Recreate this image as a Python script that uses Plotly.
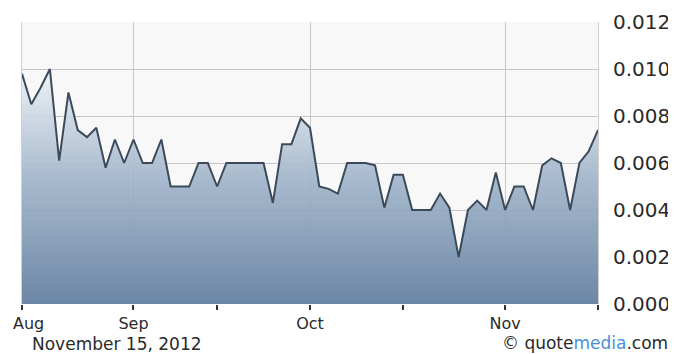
import plotly.graph_objects as go

# Trading days shown on the chart (Aug 16 - Nov 15, 2012)
dates = [
    "2012-08-16", "2012-08-17", "2012-08-20", "2012-08-21", "2012-08-22", "2012-08-23",
    "2012-08-24", "2012-08-27", "2012-08-28", "2012-08-29", "2012-08-30", "2012-08-31",
    "2012-09-04", "2012-09-05", "2012-09-06", "2012-09-07", "2012-09-10", "2012-09-11",
    "2012-09-12", "2012-09-13", "2012-09-14", "2012-09-17", "2012-09-18", "2012-09-19",
    "2012-09-20", "2012-09-21", "2012-09-24", "2012-09-25", "2012-09-26", "2012-09-27",
    "2012-09-28", "2012-10-01", "2012-10-02", "2012-10-03", "2012-10-04", "2012-10-05",
    "2012-10-08", "2012-10-09", "2012-10-10", "2012-10-11", "2012-10-12", "2012-10-15",
    "2012-10-16", "2012-10-17", "2012-10-18", "2012-10-19", "2012-10-22", "2012-10-23",
    "2012-10-24", "2012-10-25", "2012-10-26", "2012-10-31", "2012-11-01", "2012-11-02",
    "2012-11-05", "2012-11-06", "2012-11-07", "2012-11-08", "2012-11-09", "2012-11-12",
    "2012-11-13", "2012-11-14", "2012-11-15",
]

prices = [
    0.0098, 0.0085, 0.0092, 0.0100, 0.0061, 0.0090, 0.0074, 0.0071, 0.0075, 0.0058,
    0.0070, 0.0060, 0.0070, 0.0060, 0.0060, 0.0070, 0.0050, 0.0050, 0.0050, 0.0060,
    0.0060, 0.0050, 0.0060, 0.0060, 0.0060, 0.0060, 0.0060, 0.0043, 0.0068, 0.0068,
    0.0079, 0.0075, 0.0050, 0.0049, 0.0047, 0.0060, 0.0060, 0.0060, 0.0059, 0.0041,
    0.0055, 0.0055, 0.0040, 0.0040, 0.0040, 0.0047, 0.0041, 0.0020, 0.0040, 0.0044,
    0.0040, 0.0056, 0.0040, 0.0050, 0.0050, 0.0040, 0.0059, 0.0062, 0.0060, 0.0040,
    0.0060, 0.0065, 0.0074,
]

month_tick_dates = ["2012-08-16", "2012-09-04", "2012-10-01", "2012-11-01"]
month_tick_labels = ["", "Sep", "Oct", "Nov"]
minor_tick_dates = ["2012-09-17", "2012-10-15", "2012-11-15"]
first_label = "Aug"
y_ticks = [0.000, 0.002, 0.004, 0.006, 0.008, 0.010, 0.012]

x = list(range(len(dates)))
major_vals = [dates.index(d) for d in month_tick_dates]
minor_vals = [dates.index(d) for d in minor_tick_dates]

FONT = "DejaVu Sans, Verdana, sans-serif"

fig = go.Figure()
fig.add_trace(go.Scatter(
    x=x, y=prices, customdata=dates,
    mode="lines",
    line=dict(color="#3b4a5b", width=2),
    fill="tozeroy",
    fillgradient=dict(
        type="vertical",
        colorscale=[[0, "rgba(100,129,161,0.95)"], [0.5, "rgba(158,178,200,0.9)"],
                    [1, "rgba(245,248,251,0.9)"]],
        start=0, stop=0.0105,
    ),
    hovertemplate="%{customdata}: %{y:.4f}<extra></extra>",
))

# page body has an 8px margin, so the figure is 8px smaller on each side
fig.update_layout(
    width=668, height=346,
    margin=dict(l=14, r=78, t=14, b=50, autoexpand=False),
    paper_bgcolor="white",
    plot_bgcolor="#f8f8f8",
    showlegend=False,
    font=dict(family=FONT, color="#2a2a2a"),
    xaxis=dict(
        range=[0, len(dates) - 1], automargin=False,
        tickmode="array", tickvals=major_vals, ticktext=month_tick_labels,
        showgrid=True, gridcolor="#c6c6c6", gridwidth=1,
        ticks="outside", ticklen=5, tickwidth=2, tickcolor="#333333",
        tickfont=dict(size=16, family=FONT, color="#2a2a2a"),
        ticklabelstandoff=0,
        minor=dict(tickmode="array", tickvals=minor_vals, ticks="outside",
                   ticklen=5, tickwidth=2, tickcolor="#333333", showgrid=False),
        zeroline=False, showline=False, fixedrange=True,
    ),
    yaxis=dict(
        side="right", range=[0, 0.012], automargin=False,
        tickmode="array", tickvals=y_ticks, tickformat=".3f",
        showgrid=True, gridcolor="#c6c6c6", gridwidth=1,
        ticks="", ticklabelstandoff=10,
        tickfont=dict(size=20, family=FONT, color="#2a2a2a"),
        showline=True, mirror=True, linecolor="#cfcfcf", linewidth=1,
        zeroline=False, fixedrange=True,
    ),
    annotations=[
        dict(text=first_label, x=0, y=0, xref="x", yref="paper",
             xanchor="left", yanchor="top", xshift=-11, yshift=-8,
             showarrow=False, font=dict(size=16, family=FONT, color="#2a2a2a")),
        dict(text="November 15, 2012", x=0.014, y=0, xref="paper", yref="paper",
             xanchor="left", yanchor="middle", yshift=-40,
             showarrow=False, font=dict(size=17, family=FONT, color="#2a2a2a")),
        dict(text="© quote<span style='color:#4b8fd6'>media</span>.com",
             x=1.125, y=0, xref="paper", yref="paper",
             xanchor="right", yanchor="middle", yshift=-39,
             showarrow=False, font=dict(size=17, family=FONT, color="#2a2a2a")),
    ],
)

fig.write_html("out.html")
